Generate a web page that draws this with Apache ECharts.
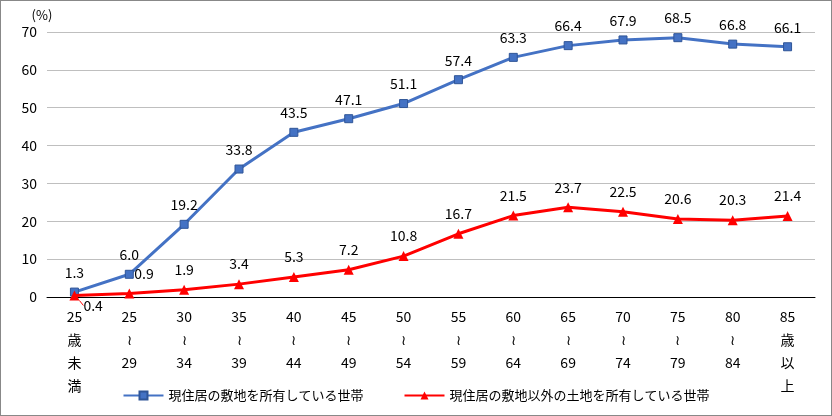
<!DOCTYPE html>
<html><head><meta charset="utf-8">
<script src="https://cdn.jsdelivr.net/npm/echarts@6/dist/echarts.min.js"></script>
<style>html,body{margin:0;padding:0;}#c{width:830px;height:414px;border:1px solid #888;}</style>
</head><body><div id="c"></div>
<script>
const categories = ["25\n歳\n未\n満","25\n≀\n29","30\n≀\n34","35\n≀\n39","40\n≀\n44","45\n≀\n49","50\n≀\n54","55\n≀\n59","60\n≀\n64","65\n≀\n69","70\n≀\n74","75\n≀\n79","80\n≀\n84","85\n歳\n以\n上"];
const ownSite = [1.3,6.0,19.2,33.8,43.5,47.1,51.1,57.4,63.3,66.4,67.9,68.5,66.8,66.1];
const otherLand = [0.4,0.9,1.9,3.4,5.3,7.2,10.8,16.7,21.5,23.7,22.5,20.6,20.3,21.4];
const seriesNames = ["現住居の敷地を所有している世帯","現住居の敷地以外の土地を所有している世帯"];
const font = "'Noto Sans CJK JP', sans-serif";
const chart = echarts.init(document.getElementById('c'));
const redData = otherLand.map((v,i)=>{
  if(i===0) return {value:v,label:{position:[14,8],formatter:'0.4'},labelLine:{show:true}};
  if(i===1) return {value:v,label:{position:[10,-22]}};
  return v;
});
chart.setOption({
  animation:false,
  textStyle:{fontFamily:font,color:'#000'},
  grid:{left:46,right:16,top:31,bottom:118},
  xAxis:{type:'category',data:categories,boundaryGap:true,
    axisLine:{lineStyle:{color:'#000'}},axisTick:{show:false},
    axisLabel:{fontSize:14,lineHeight:23,color:'#000',margin:8,interval:0}},
  yAxis:{type:'value',min:0,max:70,interval:10,name:'(%)',nameLocation:'end',
    nameTextStyle:{fontSize:13,color:'#000',padding:[0,0,2,-10]},nameGap:8,
    axisLine:{show:false},axisTick:{show:false},
    axisLabel:{fontSize:14,color:'#000',margin:10},
    splitLine:{lineStyle:{color:'#bfbfbf'}}},
  legend:{bottom:8,left:'center',itemWidth:40,itemHeight:10,itemGap:40,
    textStyle:{fontSize:13,color:'#000'}},
  series:[
    {name:seriesNames[0],type:'line',data:ownSite,symbol:'rect',symbolSize:8,
      lineStyle:{color:'#4472C4',width:3},itemStyle:{color:'#4472C4',borderColor:'#2f5597',borderWidth:1},
      label:{show:true,position:'top',distance:8,fontSize:14,color:'#000',formatter:p=>p.value.toFixed(1)},z:2},
    {name:seriesNames[1],type:'line',data:redData,symbol:'triangle',symbolSize:10,
      lineStyle:{color:'#FF0000',width:3},itemStyle:{color:'#FF0000'},
      label:{show:true,position:'top',distance:8,fontSize:14,color:'#000',formatter:p=>Number(p.value).toFixed(1)},z:3}
  ]
});
</script></body></html>
